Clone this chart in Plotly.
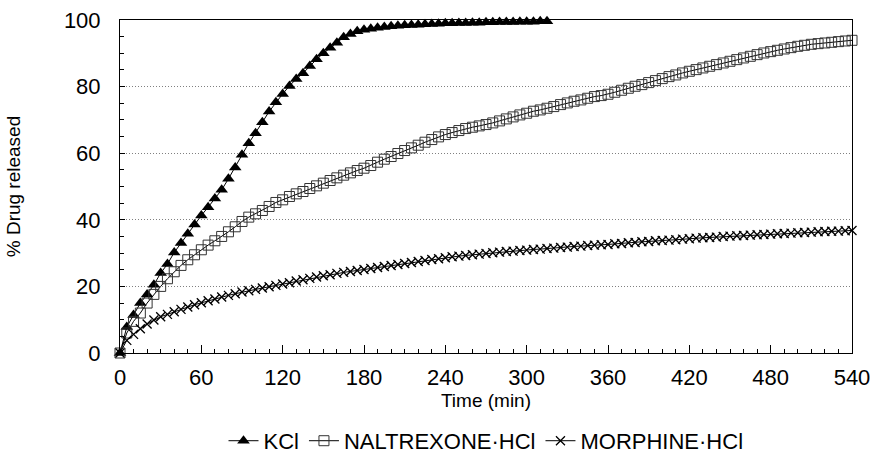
import plotly.graph_objects as go

# sampling times (min), every 5 min
time_min = list(range(0, 545, 5))

kcl = [0, 7.8, 11.4, 15, 17.6, 20.5, 24, 26.7, 30.2, 33,
       35.8, 38.6, 41.3, 43.8, 46.4, 49, 52.3, 55.7, 59.5, 63,
       66, 69.3, 72.5, 75.3, 77.8, 80.2, 82.3, 84, 86.2, 88.2,
       90, 91.7, 93.2, 94.8, 95.8, 96.6, 97.1, 97.4, 97.7, 97.9,
       98.1, 98.3, 98.4, 98.5, 98.6, 98.7, 98.8, 98.9, 99, 99,
       99.1, 99.1, 99.2, 99.2, 99.3, 99.3, 99.4, 99.4, 99.4, 99.5,
       99.5, 99.5, 99.6, 99.6]

naltrexone = [0, 6, 9.5, 12, 15, 17.6, 20, 22.3, 24.4, 26.3,
              28, 29.5, 31, 32.4, 33.7, 35, 36.4, 37.9, 39.5, 40.8,
              41.8, 42.8, 44, 45.2, 46, 47, 47.8, 48.5, 49.4, 50.2,
              51, 51.8, 52.6, 53.4, 54.1, 54.8, 55.5, 56.3, 57.3, 58.2,
              59, 59.9, 60.8, 61.6, 62.4, 63.3, 64.1, 64.9, 65.6, 66.2,
              66.8, 67.4, 67.8, 68.2, 68.6, 69.1, 69.7, 70.3, 70.9, 71.5,
              72, 72.6, 73, 73.5, 74, 74.6, 75.1, 75.6, 76, 76.5,
              77, 77.3, 77.7, 78.3, 78.9, 79.5, 80.1, 80.6, 81.2, 81.8,
              82.4, 83, 83.5, 84.1, 84.6, 85.1, 85.6, 86.1, 86.6, 87.1,
              87.6, 88.1, 88.6, 89.1, 89.6, 90.1, 90.5, 90.9, 91.3, 91.7,
              92.1, 92.4, 92.7, 92.9, 93.1, 93.3, 93.5, 93.7, 93.9]

morphine = [0, 3.8, 5.6, 7.3, 8.7, 9.9, 10.9, 11.6, 12.4, 13.1,
            13.8, 14.5, 15.1, 15.7, 16.2, 16.8, 17.3, 17.8, 18.3, 18.7,
            19.1, 19.5, 19.9, 20.3, 20.7, 21.1, 21.6, 22, 22.4, 22.8,
            23.2, 23.5, 23.9, 24.2, 24.5, 24.8, 25.1, 25.4, 25.7, 26,
            26.3, 26.6, 26.9, 27.2, 27.5, 27.8, 28.1, 28.3, 28.6, 28.9,
            29.1, 29.3, 29.5, 29.7, 29.9, 30.1, 30.3, 30.5, 30.6, 30.8,
            30.9, 31.1, 31.2, 31.4, 31.5, 31.7, 31.8, 32, 32.1, 32.3,
            32.4, 32.5, 32.6, 32.8, 32.9, 33.1, 33.2, 33.4, 33.5, 33.7,
            33.8, 33.9, 34, 34.2, 34.3, 34.5, 34.6, 34.7, 34.8, 35,
            35.1, 35.2, 35.3, 35.4, 35.5, 35.6, 35.7, 35.8, 35.9, 36,
            36.1, 36.2, 36.3, 36.4, 36.5, 36.55, 36.6, 36.7, 36.8]

x_ticks = [0, 60, 120, 180, 240, 300, 360, 420, 480, 540]
y_ticks = [0, 20, 40, 60, 80, 100]

FONT = "Liberation Sans, Arial, Helvetica, sans-serif"

fig = go.Figure()
fig.add_trace(go.Scatter(
    x=time_min[:len(kcl)], y=kcl, name="KCl", mode="lines+markers",
    line=dict(color="black", width=1),
    marker=dict(symbol="triangle-up", size=11, color="black"),
    cliponaxis=False))
fig.add_trace(go.Scatter(
    x=time_min, y=naltrexone, name="NALTREXONE·HCl", mode="lines+markers",
    line=dict(color="black", width=1),
    marker=dict(symbol="square-open", size=10, color="#333333", line=dict(width=1)),
    cliponaxis=False))
fig.add_trace(go.Scatter(
    x=time_min, y=morphine, name="MORPHINE·HCl", mode="lines+markers",
    line=dict(color="black", width=1),
    marker=dict(symbol="x-thin-open", size=9, color="black", line=dict(width=1.3, color="black")),
    cliponaxis=False))

fig.update_layout(
    width=873, height=465,
    margin=dict(l=120, r=21, t=20, b=112, autoexpand=False),
    paper_bgcolor="white", plot_bgcolor="white",
    font=dict(family=FONT, size=22, color="black"),
    showlegend=True,
    legend=dict(orientation="h", x=0.5, xanchor="center", y=-0.264, yanchor="middle",
                font=dict(size=22), itemwidth=30, tracegroupgap=0,
                bgcolor="rgba(0,0,0,0)"),
)
fig.update_xaxes(
    range=[0, 540], tickvals=x_ticks, ticktext=[str(v) for v in x_ticks],
    showline=True, linecolor="black", linewidth=1, mirror=True,
    ticks="inside", ticklen=8, tickcolor="black",
    minor=dict(dtick=10, tick0=0, ticks="inside", ticklen=4, tickcolor="black", showgrid=False),
    showgrid=False, zeroline=False, ticklabelstandoff=5, automargin=False,
    tickfont=dict(size=22),
    title=dict(text="Time (min)", font=dict(size=19), standoff=4),
)
fig.update_yaxes(
    range=[0, 100], tickvals=y_ticks, ticktext=[str(v) for v in y_ticks],
    showline=True, linecolor="black", linewidth=1, mirror=True,
    ticks="inside", ticklen=5, tickcolor="black",
    minor=dict(dtick=5, tick0=0, ticks="inside", ticklen=4, tickcolor="black", showgrid=False),
    showgrid=True, gridcolor="#808080", griddash="1px,2px", gridwidth=1,
    zeroline=False, ticklabelstandoff=14, automargin=False,
    tickfont=dict(size=22),
    title=dict(text="% Drug released", font=dict(size=19), standoff=38),
)

fig.write_html("out.html", config={"displayModeBar": False},
               post_script="document.body.style.margin='0';")
